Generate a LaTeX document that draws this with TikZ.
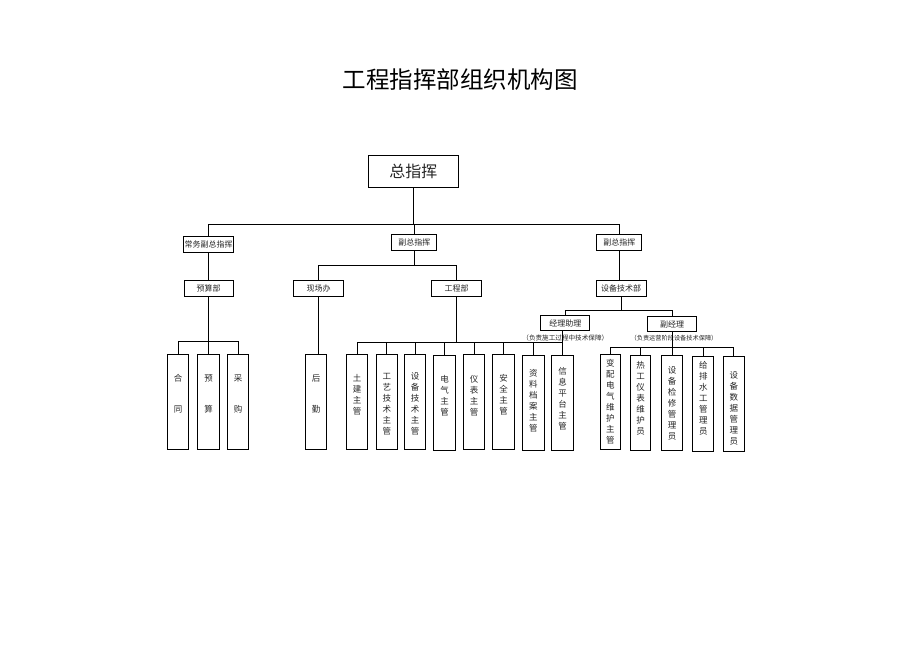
\documentclass[tikz,border=0pt]{standalone}
\usepackage{fontspec}
\newfontfamily\cjk{Noto Sans CJK SC}
\begin{document}
\begin{tikzpicture}[x=1pt,y=-1pt,
  ln/.style={line width=0.8pt},
  box/.style={draw, line width=1pt, inner sep=0pt, text=black!85},
  hb/.style={box, minimum height=16pt, font=\cjk\fontsize{8}{9}\selectfont},
  vb/.style={box, minimum width=21.5pt, minimum height=95pt},
  vt/.style={inner sep=0pt, align=center, text=black!85, font=\cjk\fontsize{8.5}{11}\selectfont},
  lbl/.style={inner sep=0pt, text=black!85}]
\useasboundingbox (0,0) rectangle (920,651);
% title
\node[font=\cjk\fontsize{23.5}{26}\selectfont] (title) at (460,80) {工程指挥部组织机构图};
% top levels
\node[box, minimum width=90pt, minimum height=32pt, font=\cjk\fontsize{16}{18}\selectfont] (zzh) at (413.3,171.7) {总指挥};
\node[hb, minimum width=49.4pt] (cw) at (208.5,244.2) {常务副总指挥};
\node[hb, minimum width=45pt] (fz1) at (414.3,242) {副总指挥};
\node[hb, minimum width=45pt] (fz2) at (619.3,242) {副总指挥};
\node[hb, minimum width=49.3pt] (ys) at (208.7,288.7) {预算部};
\node[hb, minimum width=50pt] (xc) at (318.5,288.7) {现场办};
\node[hb, minimum width=49.3pt] (gc) at (456.5,288.7) {工程部};
\node[hb, minimum width=50pt] (sb) at (621,288.7) {设备技术部};
\node[hb, minimum width=49.3pt, minimum height=15pt] (jl) at (565.3,323.2) {经理助理};
\node[hb, minimum width=49pt, minimum height=15pt] (fj) at (672.2,324.2) {副经理};
% sub labels
\node[lbl, font=\cjk\fontsize{6.6}{7}\selectfont] (l1) at (565.3,338.3) {（负责施工过程中技术保障）};
\node[lbl, font=\cjk\fontsize{6.2}{7}\selectfont] (l2) at (674,338.3) {（负责运营阶段设备技术保障）};
% bottom boxes
\node[vb, label={[vt, yshift=8pt]center:{合\\[20pt]同}}] (ht) at (178.2,401.8) {};
\node[vb, label={[vt, yshift=8pt]center:{预\\[20pt]算}}] (yu) at (208.7,401.8) {};
\node[vb, label={[vt, yshift=8pt]center:{采\\[20pt]购}}] (cg) at (238.2,401.8) {};
\node[vb, label={[vt, yshift=8pt]center:{后\\[20pt]勤}}] (hq) at (316,401.8) {};
\node[vb, label={[vt, yshift=7pt]center:{土\\建\\主\\管}}] (tj) at (357,401.8) {};
\node[vb, label={[vt, yshift=-2pt]center:{工\\艺\\技\\术\\主\\管}}] (gy) at (386.8,402.2) {};
\node[vb, label={[vt, yshift=-2pt]center:{设\\备\\技\\术\\主\\管}}] (sj) at (415.2,402.2) {};
\node[vb, label={[vt, yshift=7pt]center:{电\\气\\主\\管}}] (dq) at (444.5,403.2) {};
\node[vb, label={[vt, yshift=6pt]center:{仪\\表\\主\\管}}] (yb) at (474,402.2) {};
\node[vb, label={[vt, yshift=7pt]center:{安\\全\\主\\管}}] (aq) at (503.5,402.2) {};
\node[vb, label={[vt, yshift=2pt]center:{资\\料\\档\\案\\主\\管}}] (zl) at (533.3,403.2) {};
\node[vb, label={[vt, yshift=4pt]center:{信\\息\\平\\台\\主\\管}}] (xx) at (562.5,402.5) {};
\node[vb, minimum width=20pt, label={[vt]center:{变\\配\\电\\气\\维\\护\\主\\管}}] (bp) at (610.3,402.2) {};
\node[vb, minimum width=20.5pt, label={[vt, yshift=5pt]center:{热\\工\\仪\\表\\维\\护\\员}}] (rg) at (640.7,403) {};
\node[vb, minimum width=21pt, label={[vt]center:{设\\备\\检\\修\\管\\理\\员}}] (jx) at (672.2,403) {};
\node[vb, minimum width=21pt, label={[vt, yshift=5pt]center:{给\\排\\水\\工\\管\\理\\员}}] (gp) at (703.3,403.7) {};
\node[vb, minimum width=21pt, label={[vt, yshift=-4pt]center:{设\\备\\数\\据\\管\\理\\员}}] (sjgl) at (733.8,404) {};
% bus levels
\coordinate (b1) at (0,224.3);
\coordinate (b2) at (0,265);
\coordinate (b3) at (0,341.7);
\coordinate (b4) at (0,342);
\coordinate (b5) at (0,310.7);
\coordinate (b6) at (0,347.7);
% connectors
\draw[ln] (zzh.south) -- (zzh.south |- b1);
\draw[ln] (cw.north) |- (fz2.north |- b1) -- (fz2.north);
\draw[ln] (fz1.north) -- (fz1.north |- b1);
\draw[ln] (cw.south) -- (cw.south |- ys.north);
\draw[ln] (fz2.south) -- (fz2.south |- sb.north);
\draw[ln] (fz1.south) -- (fz1.south |- b2);
\draw[ln] (xc.north) |- (gc.north |- b2) -- (gc.north);
\draw[ln] (ys.south) -- (ys.south |- yu.north);
\draw[ln] (ht.north) |- (cg.north |- b3) -- (cg.north);
\draw[ln] (xc.south) -- (xc.south |- hq.north);
\draw[ln] (gc.south) -- (gc.south |- b4);
\draw[ln] (tj.north) |- (xx.north |- b4) -- (xx.north);
\foreach \n in {gy,sj,dq,yb,aq,zl} \draw[ln] (\n.north) -- (\n.north |- b4);
\draw[ln] (sb.south) -- (sb.south |- b5);
\draw[ln] (jl.north) |- (fj.north |- b5) -- (fj.north);
\draw[ln] (jl.south -| xx.north) -- (xx.north);
\draw[ln] (fj.south) -- (fj.south |- jx.north);
\draw[ln] (bp.north) |- (sjgl.north |- b6) -- (sjgl.north);
\foreach \n in {rg,gp} \draw[ln] (\n.north) -- (\n.north |- b6);
\end{tikzpicture}
\end{document}
